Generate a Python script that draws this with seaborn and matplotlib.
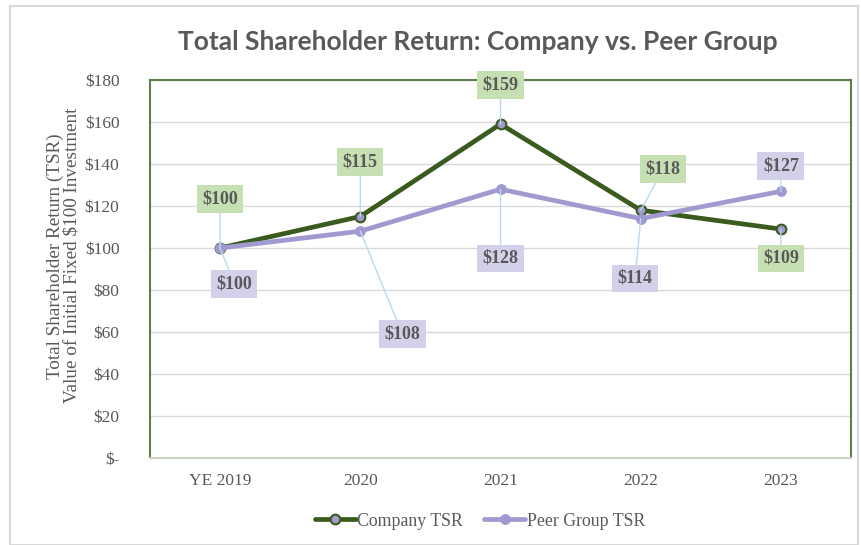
import pandas as pd
import matplotlib
matplotlib.use('Agg')
import matplotlib.pyplot as plt
import matplotlib.patches as patches
import seaborn as sns

# data
years = ["YE 2019", "2020", "2021", "2022", "2023"]
company_tsr = [100, 115, 159, 118, 109]
peer_tsr = [100, 108, 128, 114, 127]
y_ticks = [0, 20, 40, 60, 80, 100, 120, 140, 160, 180]
y_tick_labels = ["$-", "$20", "$40", "$60", "$80", "$100", "$120", "$140", "$160", "$180"]

# label offsets (x in categories, y in data units) relative to each point
company_offsets = [(0.0, 23.5), (0.0, 26), (0.0, 18.5), (0.16, 19.5), (0.0, -14)]
peer_offsets = [(0.1, -17), (0.3, -49), (0.0, -33), (-0.04, -28.5), (0.0, 12)]

GREEN = "#3b5a1d"
LAVENDER = "#a09ad0"
GRAY = "#595959"

sns.set_theme(style="white")
plt.rcParams['font.family'] = ['Liberation Serif', 'DejaVu Serif']

df = pd.DataFrame({"Year": years, "Company TSR": company_tsr, "Peer Group TSR": peer_tsr})
df["x"] = range(len(years))

fig = plt.figure(figsize=(8.61, 5.45), dpi=100)
ax = fig.add_axes([150 / 861, 1 - 458 / 545, 701 / 861, 378 / 545])

sns.lineplot(data=df, x="x", y="Company TSR", ax=ax, color=GREEN, linewidth=3.4,
             marker="o", markersize=7, markerfacecolor=LAVENDER, markeredgecolor=GREEN,
             markeredgewidth=1.5, label="Company TSR", zorder=3)
sns.lineplot(data=df, x="x", y="Peer Group TSR", ax=ax, color=LAVENDER, linewidth=3.4,
             marker="o", markersize=7, markerfacecolor=LAVENDER, markeredgecolor=LAVENDER,
             label="Peer Group TSR", zorder=4)

ax.set_xlim(-0.5, len(years) - 0.5)
ax.set_ylim(0, 180)
ax.set_xticks(range(len(years)))
ax.set_xticklabels(years)
ax.set_yticks(y_ticks)
ax.set_yticklabels(y_tick_labels)
ax.tick_params(axis='x', colors=GRAY, labelsize=12.5, pad=11, length=0)
ax.tick_params(axis='y', colors=GRAY, labelsize=12.5, pad=22, length=0)
ax.yaxis.grid(True, color="#d9d9d9", linewidth=1)
ax.set_axisbelow(True)
ax.set_xlabel("")
ax.set_ylabel("Total Shareholder Return (TSR)\nValue of Initial Fixed $100 Investment",
              color=GRAY, fontsize=13.8, linespacing=1.0)
ax.yaxis.set_label_coords(-69 / 701, 0.535)

for side in ["left", "top", "right"]:
    ax.spines[side].set_color("#5f7f4a")
    ax.spines[side].set_linewidth(1.5)
ax.spines["bottom"].set_color("#c9d3c3")
ax.spines["bottom"].set_linewidth(1.5)

# data labels with leader lines
def add_labels(values, offsets, face):
    for i, v in enumerate(values):
        dx, dy = offsets[i]
        ax.annotate(f"${v}", xy=(i, v), xytext=(i + dx, v + dy),
                    ha="center", va="center", fontsize=13, fontweight="bold", color=GRAY,
                    bbox=dict(boxstyle="square,pad=0.3", fc=face, ec="none"),
                    arrowprops=dict(arrowstyle="-", color="#bdd7ee", lw=1,
                                    shrinkA=0, shrinkB=0),
                    zorder=5)

add_labels(company_tsr, company_offsets, "#c6e0b4")
add_labels(peer_tsr, peer_offsets, "#d3d0ea")

leg = ax.legend(loc="center", bbox_to_anchor=(480 / 861, 1 - 521 / 545),
                bbox_transform=fig.transFigure, ncol=2, frameon=False,
                fontsize=12.8, handlelength=2.3, handletextpad=0.1, columnspacing=1.2)
for t in leg.get_texts():
    t.set_color(GRAY)

fig.text(478 / 861, 1 - 42 / 545, "Total Shareholder Return: Company vs. Peer Group",
         ha="center", va="center", fontsize=19, fontweight="bold", color=GRAY,
         family=['Lato', 'DejaVu Sans'])

fig.patches.append(patches.Rectangle((10 / 861, 0), 848 / 861, 1 - 6 / 545,
                                     transform=fig.transFigure, fill=False,
                                     edgecolor="#d9d9d9", linewidth=1.5))

fig.savefig("out.png", dpi=100)
